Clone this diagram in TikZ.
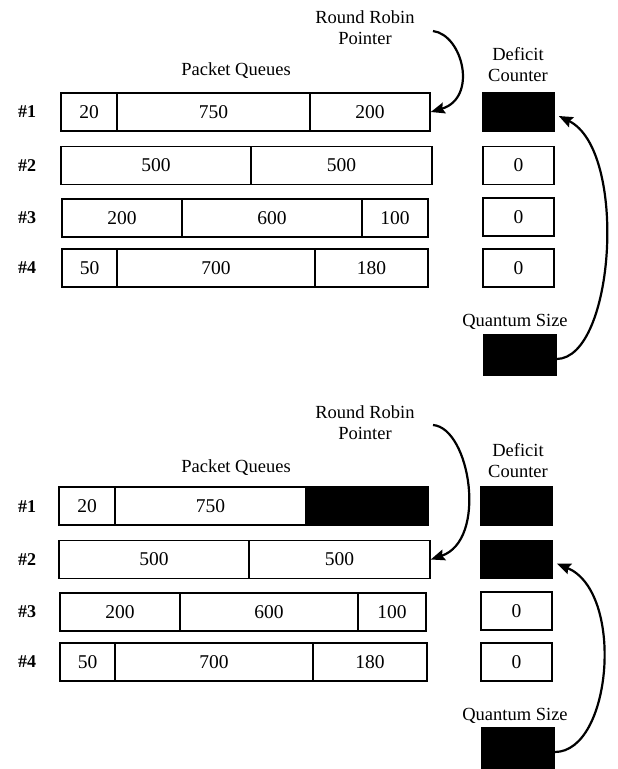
\documentclass[tikz,border=0pt]{standalone}
\usepackage{fontspec}
\setmainfont{Liberation Serif}
\usetikzlibrary{arrows.meta}
\begin{document}
\begin{tikzpicture}[x=1pt,y=-1pt,
  cell/.style={draw, line width=1.5pt, inner sep=0pt, minimum height=38pt, font=\fontsize{19.5}{22}\selectfont},
  blk/.style={cell, fill=black},
  lbl/.style={font=\fontsize{18.5}{21}\selectfont, align=center, inner sep=0pt},
  num/.style={font=\bfseries\fontsize{18}{20}\selectfont, inner sep=0pt},
  arr/.style={line width=2.2pt, -{Stealth[length=14pt,width=11pt,inset=2pt]}}]
\useasboundingbox (0,0) rectangle (618,769);

% ================= TOP PANEL =================
\node[lbl] (rr1) at (365,28) {Round Robin\\Pointer};
\node[lbl] (pq1) at (236,71) {Packet Queues};
\node[lbl] (dc1) at (518,65) {Deficit\\Counter};

\node[num] (n11) at (27,112) {\#1};
\node[num] (n12) at (27,165.5) {\#2};
\node[num] (n13) at (27,218) {\#3};
\node[num] (n14) at (27,268) {\#4};

% row 1
\node[cell, minimum width=56pt]  (t1a) at (89,112) {20};
\node[cell, minimum width=193pt] (t1b) at (213.5,112) {750};
\node[cell, minimum width=120pt] (t1c) at (370,112) {200};
% row 2
\node[cell, minimum width=190pt] (t2a) at (156,165.5) {500};
\node[cell, minimum width=181pt] (t2b) at (341.5,165.5) {500};
% row 3
\node[cell, minimum width=120pt] (t3a) at (122,218) {200};
\node[cell, minimum width=180pt] (t3b) at (272,218) {600};
\node[cell, minimum width=66pt]  (t3c) at (395,218) {100};
% row 4
\node[cell, minimum width=55pt]  (t4a) at (89.5,268) {50};
\node[cell, minimum width=198pt] (t4b) at (216,268) {700};
\node[cell, minimum width=113pt] (t4c) at (371.5,268) {180};

% deficit counters
\node[blk, minimum width=71pt] (d11) at (518.5,112) {};
\node[cell, minimum width=71pt] (d12) at (518.5,165.5) {0};
\node[cell, minimum width=71pt] (d13) at (518.5,217) {0};
\node[cell, minimum width=71pt] (d14) at (518.5,268) {0};

\node[lbl] (qsl1) at (515,322) {Quantum Size};
\node[blk, minimum width=72pt, minimum height=40pt] (qs1) at (520,355) {};

\coordinate (rr1s) at (433,31);
\draw[arr] (rr1s) .. controls (463,35) and (478,98) .. (t1c.east);
\draw[arr] ([yshift=-4pt]qs1.east) .. controls (615,358) and (628,150) .. ([xshift=4pt,yshift=-4pt]d11.east);

% ================= BOTTOM PANEL =================
\node[lbl] (rr2) at (365,423) {Round Robin\\Pointer};
\node[lbl] (pq2) at (236,468) {Packet Queues};
\node[lbl] (dc2) at (518,461) {Deficit\\Counter};

\node[num] (n21) at (27,507) {\#1};
\node[num] (n22) at (27,559.5) {\#2};
\node[num] (n23) at (27,612) {\#3};
\node[num] (n24) at (27,662) {\#4};

% row 1
\node[cell, minimum width=56pt]  (b1a) at (87,506) {20};
\node[cell, minimum width=191pt] (b1b) at (210.5,506) {750};
\node[blk, minimum width=122pt]  (b1c) at (367,506) {};
% row 2
\node[cell, minimum width=190pt] (b2a) at (154,559.5) {500};
\node[cell, minimum width=181pt] (b2b) at (339.5,559.5) {500};
% row 3
\node[cell, minimum width=120pt] (b3a) at (120,612) {200};
\node[cell, minimum width=178pt] (b3b) at (269,612) {600};
\node[cell, minimum width=68pt]  (b3c) at (392,612) {100};
% row 4
\node[cell, minimum width=55pt]  (b4a) at (87.5,662) {50};
\node[cell, minimum width=198pt] (b4b) at (214,662) {700};
\node[cell, minimum width=114pt] (b4c) at (370,662) {180};

% deficit counters
\node[blk, minimum width=71pt] (d21) at (516.5,506) {};
\node[blk, minimum width=71pt] (d22) at (516.5,559.5) {};
\node[cell, minimum width=71pt] (d23) at (516.5,611) {0};
\node[cell, minimum width=71pt] (d24) at (516.5,662) {0};

\node[lbl] (qsl2) at (515,716) {Quantum Size};
\node[blk, minimum width=72pt, minimum height=40pt] (qs2) at (518,748) {};

\coordinate (rr2s) at (433,425);
\draw[arr] (rr2s) .. controls (470,428) and (488,540) .. (b2b.east);
\draw[arr] ([yshift=-4pt]qs2.east) .. controls (612,752) and (625,592) .. ([xshift=4pt,yshift=-4pt]d22.east);
\end{tikzpicture}
\end{document}
